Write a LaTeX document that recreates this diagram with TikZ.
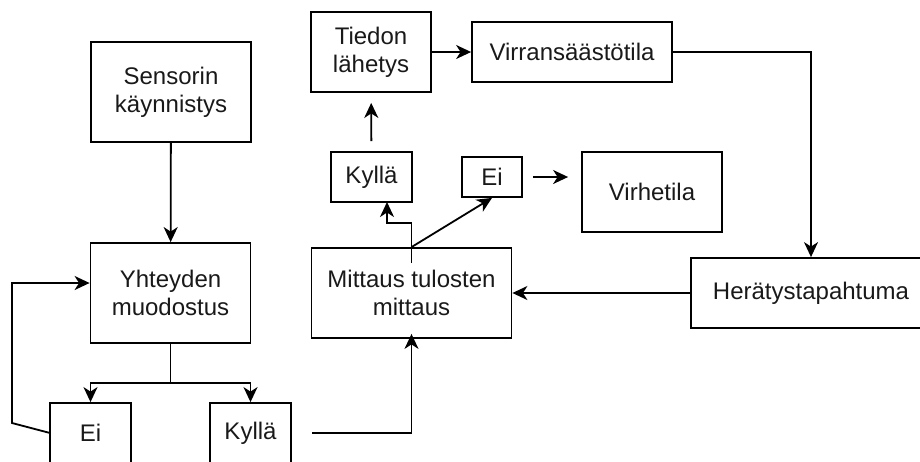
\documentclass[tikz,border=0pt]{standalone}
\usepackage{fontspec}
\setmainfont{Liberation Sans}
\usetikzlibrary{arrows.meta}
\begin{document}
\begin{tikzpicture}[x=1pt,y=-1pt,
  box/.style={draw, line width=1.8pt, rectangle, inner sep=0pt, align=center,
    font=\fontsize{24}{28}\selectfont, text=black!90},
  line/.style={line width=1.8pt},
  arr/.style={line width=1.8pt, -{Stealth[length=15pt,width=14pt,inset=4.5pt]}}]
\useasboundingbox (0,0) rectangle (920,461);
% nodes
\node[box, minimum width=160pt, minimum height=100pt] (sens) at (171,92) {Sensorin\\käynnistys};
\node[box, minimum width=160pt, minimum height=100pt] (yht) at (170.5,293) {Yhteyden\\muodostus};
\node[box, minimum width=81pt, minimum height=60pt] (ei1) at (90.5,433) {Ei};
\node[box, minimum width=81pt, minimum height=60pt] (ky1) at (250.5,433) {Kyllä};
\node[box, minimum width=200pt, minimum height=90pt] (mit) at (411.5,293) {Mittaus tulosten\\mittaus};
\node[box, minimum width=81pt, minimum height=50pt] (ky2) at (371.5,177) {Kyllä};
\node[box, minimum width=60pt, minimum height=40pt] (ei2) at (492,177) {Ei};
\node[box, minimum width=140pt, minimum height=80pt] (vir) at (652,192) {Virhetila};
\node[box, minimum width=120pt, minimum height=80pt] (tie) at (371,52) {Tiedon\\lähetys};
\node[box, minimum width=200pt, minimum height=60pt] (virr) at (572,52) {Virransäästötila};
\node[box, minimum width=240pt, minimum height=70pt] (her) at (811,293) {Herätystapahtuma};
% coordinates
\coordinate (split) at (170.5,383);
\coordinate (l1) at (12,423);
\coordinate (l2) at (12,283);
\coordinate (l3) at (50,433);
\coordinate (k1) at (312,433);
\coordinate (m1) at (411.5,263);
\coordinate (m2) at (411.5,223);
\coordinate (m3) at (387,223);
\coordinate (m4) at (387,202);
% connectors
\draw[arr] (sens) -- (yht);
\draw[line] (yht.south) -- (split);
\draw[arr] (split) -| (ei1.north);
\draw[arr] (split) -| (ky1.north);
\draw[arr] (l3) -- (l1) -- (l2) -- (l2 -| yht.west);
\draw[arr, shorten >=-5pt] (k1) -| (mit.south);
\draw[arr] (m1) -- (m2) -- (m3) -- (m4);
\draw[arr] (mit.north) -- (ei2.south);
\draw[arr, shorten <=10pt, shorten >=10pt] (ky2) -- (tie);
\draw[arr, shorten <=10pt, shorten >=13pt] (ei2.east) -- (ei2.east -| vir.west);
\draw[arr] (tie.east) -- (virr.west);
\draw[arr] (virr.east) -| (her.north);
\draw[arr] (her.west) -- (mit.east);
\end{tikzpicture}
\end{document}
